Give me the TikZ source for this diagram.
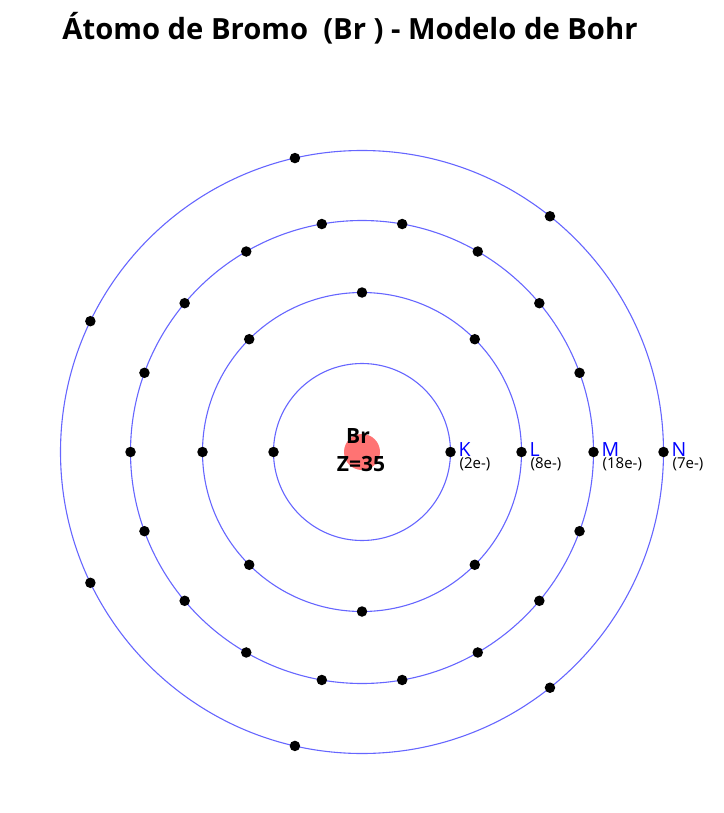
\documentclass[tikz,border=0pt]{standalone}
\usepackage{fontspec}
\setmainfont{Open Sans}
\usetikzlibrary{calc}
\begin{document}
\begin{tikzpicture}[x=1pt,y=-1pt,
  orbit/.style={draw=blue!60!white,line width=1.1pt},
  electron/.style={circle,fill=black,inner sep=0pt,minimum size=10.5pt},
  shelllbl/.style={anchor=west,inner sep=0pt,text=blue,font=\fontsize{19.5}{20}\selectfont},
  countlbl/.style={anchor=west,inner sep=0pt,font=\fontsize{15}{16}\selectfont}]
\useasboundingbox (0,0) rectangle (723,813);
\coordinate (c) at (362,452);
\node[font=\bfseries\fontsize{29.2}{30}\selectfont] (title) at (350,28) {Átomo de Bromo\ \ (Br ) - Modelo de Bohr};
\node[circle,fill=red,fill opacity=0.55,minimum size=36pt,inner sep=0pt] (nuc) at (c) {};
\foreach \r/\n/\lab/\cnt in {88.5/2/K/2e-,159.5/8/L/8e-,231.5/18/M/18e-,301.5/7/N/7e-}{
  \draw[orbit] (c) circle[radius=\r];
  \foreach \i in {1,...,\n}{
    \node[electron] (e\lab\i) at ($(c)+({360/\n*(\i-1)}:\r)$) {};
  }
  \node[shelllbl] (s\lab) at ($(c)+(\r+8,-2)$) {\lab};
  \node[countlbl] (n\lab) at ($(c)+(\r+9,12)$) {(\cnt)};
}
\node[font=\bfseries\fontsize{21}{21}\selectfont,inner sep=0pt] (br) at (358,436) {Br};
\node[font=\bfseries\fontsize{21}{21}\selectfont,inner sep=0pt] (z) at (361,464) {Z=35};
\end{tikzpicture}
\end{document}
